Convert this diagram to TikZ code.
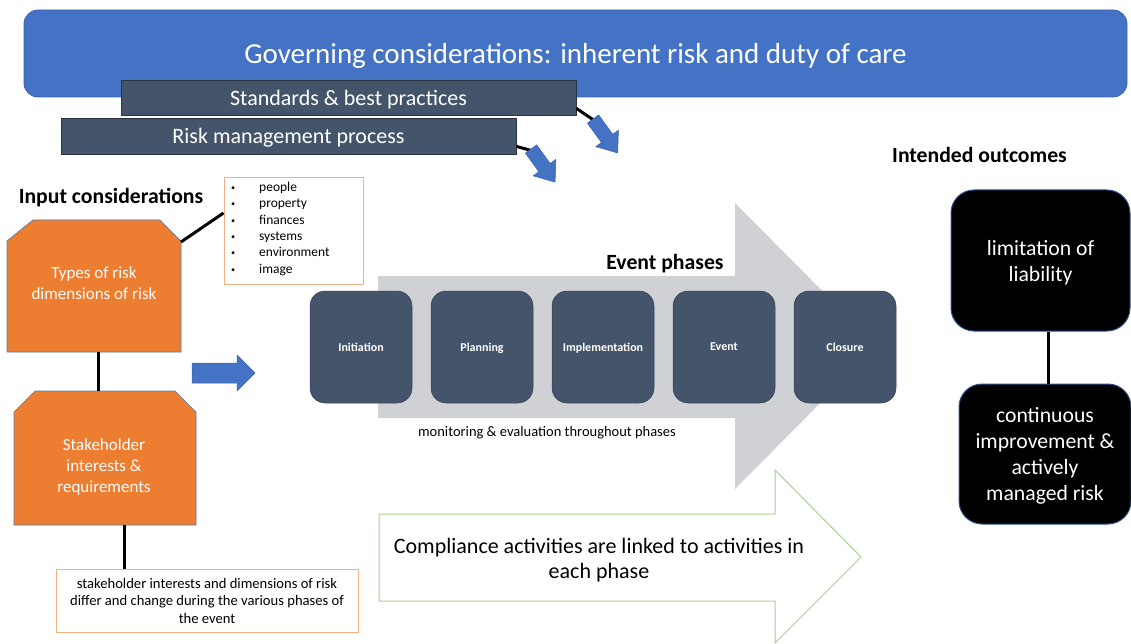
\documentclass[tikz,border=0pt]{standalone}
\usepackage{fontspec}
\setmainfont{Carlito}
\definecolor{bannerblue}{HTML}{4472C4}
\definecolor{bannerline}{HTML}{3A64B0}
\definecolor{slate}{HTML}{44546A}
\definecolor{slateline}{HTML}{2A3441}
\definecolor{orangefill}{HTML}{ED7D31}
\definecolor{orangeline}{HTML}{5B7BA6}
\definecolor{lightorange}{HTML}{F4B183}
\definecolor{grayarrow}{HTML}{D0D1D4}
\definecolor{greenline}{HTML}{A9D18E}
\definecolor{boxline}{HTML}{2F528F}
\newcommand{\fs}[2]{\fontsize{#1}{#2}\selectfont}
\newcommand{\bul}{\makebox[28pt][l]{\raisebox{1pt}{\scalebox{0.6}{\textbullet}}}}
\begin{document}
\begin{tikzpicture}[x=1pt,y=-1pt,
  every node/.append style={text depth=0pt},
  banner/.style={fill=bannerblue,draw=bannerline,line width=0.8pt,rounded corners=14pt,
     minimum width=1103pt,minimum height=87pt,inner sep=0pt,text=white,font=\fs{29}{34}},
  darkbar/.style={fill=slate,draw=slateline,line width=0.8pt,minimum width=455pt,inner sep=0pt,
     text=white,font=\fs{22}{26}},
  conn/.style={line width=3pt,black},
  heading/.style={font=\bfseries\fs{21.7}{26},inner sep=0pt},
  obox/.style={draw=lightorange,line width=1pt,fill=white,inner sep=0pt},
  orangeshape/.style={fill=orangefill,draw=orangeline,line width=0.7pt},
  whitetext/.style={text=white,align=center,inner sep=0pt},
  phase/.style={fill=slate,draw=slate!80!black,line width=0.5pt,rounded corners=15pt,minimum width=102pt,
     minimum height=112pt,inner sep=0pt,text=white,font=\bfseries\fs{12}{14}},
  blockarrow/.style={fill=bannerblue,draw=bannerline,line width=0.5pt},
  outcome/.style={fill=black,draw=boxline,line width=1pt,rounded corners=23pt,inner sep=0pt,
     text=white,align=center,font=\fs{21.7}{26}},
  ghost/.style={inner sep=0pt,draw=none}
]
\useasboundingbox (0,0) rectangle (1131,644);
\fill[white] (0,0) rectangle (1131,644);

% governing banner
\node[banner] (gov) at (575.5,53.5) {Governing considerations: inherent risk and duty of care};
\node[darkbar,minimum height=35pt] (std) at (348.5,97.5) {Standards \& best practices};
\node[darkbar,minimum height=36pt] (rmp) at (288.5,136) {Risk management process};

% connectors to blue arrows
\coordinate (a1tail) at (595,121);
\coordinate (a2tail) at (533,151);
\draw[conn] ([yshift=7pt]std.south east) -- (a1tail);
\draw[conn] ([yshift=8pt]rmp.south east) -- (a2tail);
\begin{scope}[shift={(593,119)},rotate=-54]
  \fill[blockarrow] (0,-7) -- (24,-7) -- (24,-14) -- (42,0) -- (24,14) -- (24,7) -- (0,7) -- cycle;
\end{scope}
\begin{scope}[shift={(531,149)},rotate=-54]
  \fill[blockarrow] (0,-7) -- (23,-7) -- (23,-14) -- (41,0) -- (23,14) -- (23,7) -- (0,7) -- cycle;
\end{scope}

% input considerations
\node[heading] (inputs) at (111,196) {Input considerations};
\node[obox,minimum width=139pt,minimum height=106pt] (dims) at (293.5,231) {};
\node[inner sep=0pt,anchor=north west,align=left,font=\fs{13.5}{16.3}] (dimlist) at (231,182)
  {\bul people\\
   \bul property\\
   \bul finances\\
   \bul systems\\
   \bul environment\\
   \bul image};

\draw[orangeshape] (33,220) -- (160,220) -- (181,241) -- (181,352) -- (7,352) -- (7,241) -- cycle;
\node[ghost,minimum width=174pt,minimum height=132pt] (types) at (94,286) {};
\node[whitetext,font=\fs{17}{20.5}] (typestext) at (94,283) {Types of risk\\dimensions of risk};

\draw[orangeshape] (35,391) -- (175,391) -- (196,412) -- (196,525) -- (14,525) -- (14,412) -- cycle;
\node[ghost,minimum width=182pt,minimum height=134pt] (stake) at (105,458) {};
\node[whitetext,font=\fs{17}{21}] (staketext) at (104,465.5) {Stakeholder\\interests \&\\requirements};

\node[obox,minimum width=302pt,minimum height=63pt,align=center,font=\fs{14.6}{17.5}] (note) at (207,600.5)
  {stakeholder interests and dimensions of risk\\differ and change during the various phases of\\the event};

\coordinate (typesNE) at (181,242);
\draw[conn] (typesNE) -- ([yshift=18pt]dims.west);
\draw[conn] ([xshift=4pt]types.south) -- ([xshift=4pt]types.south |- stake.north);
\draw[conn] ([xshift=19pt]stake.south) -- ([xshift=19pt]stake.south |- note.north);

% right blue arrow
\fill[blockarrow] (192,363) -- (237,363) -- (237,355) -- (255,373) -- (237,391) -- (237,383) -- (192,383) -- cycle;

% gray event arrow
\fill[grayarrow] (378,276) -- (735,276) -- (735,203) -- (877,346) -- (735,489) -- (735,418) -- (378,418) -- cycle;
\node[heading] (evph) at (665,262) {Event phases};
\node[phase] (p1) at (361,347) {Initiation};
\node[phase] (p2) at (482,347) {Planning};
\node[phase] (p3) at (603,347) {Implementation};
\node[phase] (p4) at (724,347) {Event};
\node[phase] (p5) at (845,347) {Closure};
\node[inner sep=0pt,font=\fs{14.5}{17}] (monitor) at (547,431) {monitoring \& evaluation throughout phases};

% compliance arrow
\draw[draw=greenline,fill=white,line width=1pt] (379,514) -- (775,514) -- (775,470) -- (861,557) -- (775,643) -- (775,601) -- (379,601) -- cycle;
\node[inner sep=0pt,align=center,font=\fs{22}{25}] (compl) at (599,558)
  {Compliance activities are linked to activities in\\each phase};

% outcomes
\node[heading] (outh) at (979.5,155) {Intended outcomes};
\node[outcome,minimum width=179pt,minimum height=141pt] (o1) at (1040.5,260.5) {limitation of\\liability};
\node[outcome,minimum width=172pt,minimum height=140pt] (o2) at (1045,454) {continuous\\improvement \&\\actively\\managed risk};
\draw[conn] ([xshift=7.5pt]o1.south) -- ([xshift=7.5pt]o1.south |- o2.north);
\end{tikzpicture}
\end{document}
